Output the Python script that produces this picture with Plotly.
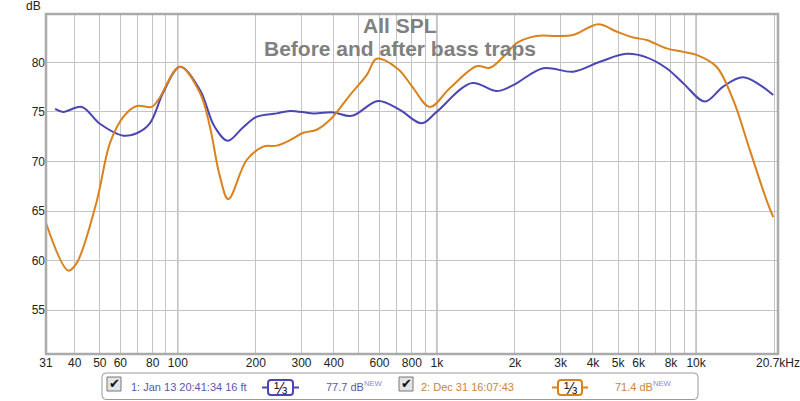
import numpy as np
import plotly.graph_objects as go

# Data (frequency in Hz, level in dB).
blue_freq = [33.6, 36.1, 42.6, 50, 61.6, 69.4, 78, 88, 102, 121.8, 138, 155.7, 178,
             201, 240.7, 271, 333, 398, 469, 593, 719, 873, 997, 1360, 1699, 1970,
             2570, 3357, 4254, 5391, 6440, 7692, 8918, 10810, 12720, 15190, 19840]
blue_db = [75.3, 75.0, 75.5, 73.8, 72.6, 72.85, 73.85, 77.0, 79.55, 77.2, 73.6, 72.1, 73.4,
           74.5, 74.85, 75.1, 74.85, 74.95, 74.6, 76.1, 75.2, 73.85, 75.0, 77.9, 77.1, 77.7,
           79.4, 79.05, 80.05, 80.85, 80.5, 79.4, 77.9, 76.05, 77.55, 78.5, 76.7]

orange_freq = [31, 37.8, 40.7, 48.6, 54.7, 61.6, 69.4, 79.3, 84, 102, 121.8, 133, 145,
               156.6, 184.4, 213.7, 240.7, 271, 305, 343.5, 386.5, 461.6, 535.5, 585, 709,
               800, 939.6, 1122, 1423, 1601, 1802, 2050, 2424, 2895, 3357, 4191, 4934,
               5719, 6440, 7692, 8918, 10040, 11995, 13905, 16125, 18700, 19840]
orange_db = [63.8, 59.0, 59.75, 65.95, 71.85, 74.5, 75.6, 75.5, 76.2, 79.55, 76.9, 73.5, 68.6,
             66.2, 70.15, 71.5, 71.6, 72.15, 72.9, 73.2, 74.2, 76.7, 78.7, 80.35, 79.3,
             77.6, 75.5, 77.4, 79.6, 79.45, 80.55, 82.0, 82.65, 82.65, 82.75, 83.83, 83.1,
             82.5, 82.25, 81.4, 81.05, 80.75, 79.55, 76.2, 71.15, 66.1, 64.4]

grid_freq = [31, 40, 50, 60, 70, 80, 90, 100, 200, 300, 400, 500, 600, 700, 800, 900,
             1000, 2000, 3000, 4000, 5000, 6000, 7000, 8000, 9000, 10000, 20000, 20700]
grid_text = ['31', '40', '50', '60', '', '80', '', '100', '200', '300', '400', '', '600',
             '', '800', '', '1k', '2k', '3k', '4k', '5k', '6k', '', '8k', '', '10k', '', '20.7kHz']
db_ticks = [55, 60, 65, 70, 75, 80]

BLUE = '#4a46b4'
ORANGE = '#d9821e'
W, H = 800, 401
L, R, T, B = 46, 22, 14, 47
PW, PH = W - L - R, H - T - B


def px(x):
    return (x - L) / PW


def py(y):
    return (H - B - y) / PH


def rounded(x0, y0, x1, y1, r):
    # rounded rectangle path in paper coords, from pixel corners
    pts = (f"M {px(x0 + r)},{py(y0)} L {px(x1 - r)},{py(y0)} Q {px(x1)},{py(y0)} {px(x1)},{py(y0 + r)} "
           f"L {px(x1)},{py(y1 - r)} Q {px(x1)},{py(y1)} {px(x1 - r)},{py(y1)} "
           f"L {px(x0 + r)},{py(y1)} Q {px(x0)},{py(y1)} {px(x0)},{py(y1 - r)} "
           f"L {px(x0)},{py(y0 + r)} Q {px(x0)},{py(y0)} {px(x0 + r)},{py(y0)} Z")
    return pts


fig = go.Figure()
fig.add_trace(go.Scatter(x=blue_freq, y=blue_db, mode='lines',
                         line=dict(color=BLUE, width=2, shape='spline', smoothing=1.0)))
fig.add_trace(go.Scatter(x=orange_freq, y=orange_db, mode='lines',
                         line=dict(color=ORANGE, width=2, shape='spline', smoothing=1.0)))

shapes = []
# darker decade lines
for f in [100, 1000, 10000]:
    shapes.append(dict(type='line', xref='x', yref='paper', x0=f, x1=f, y0=0, y1=1,
                       line=dict(color='#8a8a8a', width=1), layer='below'))
# plot frame
shapes.append(dict(type='rect', xref='paper', yref='paper', x0=0, x1=1, y0=0, y1=1,
                   line=dict(color='#aaaaaa', width=2.5)))
# legend box
shapes.append(dict(type='path', xref='paper', yref='paper', path=rounded(102, 373, 698, 399.5, 4),
                   line=dict(color='#999999', width=1), fillcolor='white'))

annotations = [
    dict(text='<b>All SPL</b>', x=px(400), y=py(26), font=dict(size=21, color='#808080')),
    dict(text='<b>Before and after bass traps</b>', x=px(400), y=py(49),
         font=dict(size=21, color='#808080')),
    dict(text='dB', x=px(33), y=py(6), font=dict(size=12, color='#222222')),
]

legend_items = [
    dict(cb=107, label='1: Jan 13 20:41:34 16 ft', lx=129, box=(268, 293), lvl='77.7 dB', vx=324,
         col=BLUE, tcol='#5a58a8'),
    dict(cb=399, label='2: Dec 31 16:07:43', lx=419, box=(558, 582), lvl='71.4 dB', vx=613,
         col=ORANGE, tcol='#c8853a'),
]
for it in legend_items:
    cb = it['cb']
    shapes.append(dict(type='rect', xref='paper', yref='paper', x0=px(cb), x1=px(cb + 14),
                       y0=py(377), y1=py(391), line=dict(color='#777777', width=1),
                       fillcolor='#e4e4e4'))
    annotations.append(dict(text='✔', x=px(cb + 7.5), y=py(384), font=dict(size=13, color='#111111')))
    annotations.append(dict(text=it['label'], x=px(it['lx']), y=py(387), xanchor='left',
                            font=dict(size=11, color=it['tcol'])))
    b0, b1 = it['box']
    shapes.append(dict(type='path', xref='paper', yref='paper', path=rounded(b0, 380, b1, 395, 3),
                       line=dict(color=it['col'], width=2), fillcolor='white'))
    shapes.append(dict(type='line', xref='paper', yref='paper', x0=px(b0 - 6), x1=px(b0),
                       y0=py(387.5), y1=py(387.5), line=dict(color=it['col'], width=2)))
    shapes.append(dict(type='line', xref='paper', yref='paper', x0=px(b1), x1=px(b1 + 6),
                       y0=py(387.5), y1=py(387.5), line=dict(color=it['col'], width=2)))
    annotations.append(dict(text='⅓', x=px((b0 + b1) / 2), y=py(388),
                            font=dict(size=16, color='#222222')))
    annotations.append(dict(text=it['lvl'] + "<sup><span style='color:#8a8ae0'>NEW</span></sup>",
                            x=px(it['vx']), y=py(386), xanchor='left',
                            font=dict(size=11, color=it['tcol'])))

for a in annotations:
    a.update(xref='paper', yref='paper', showarrow=False)
    a.setdefault('xanchor', 'center')
    a.setdefault('yanchor', 'middle')

fig.update_layout(
    width=W, height=H, margin=dict(l=L, r=R, t=T, b=B, autoexpand=False),
    paper_bgcolor='white', plot_bgcolor='white', showlegend=False,
    font=dict(family='Liberation Sans, Arial, sans-serif', size=12, color='#222222'),
    shapes=shapes, annotations=annotations,
)
fig.update_xaxes(type='log', range=[np.log10(31) - 1e-4, np.log10(20700) + 1e-4],
                 tickvals=grid_freq, ticktext=grid_text, showgrid=True, tickangle=0,
                 gridcolor='#c4c4c4', gridwidth=1, zeroline=False, ticks='',
                 showline=False, tickfont=dict(size=12), automargin=False)
fig.update_yaxes(range=[50.59, 84.87], tickvals=db_ticks, showgrid=True,
                 gridcolor='#c4c4c4', gridwidth=1, zeroline=False, ticks='',
                 showline=False, tickfont=dict(size=12), automargin=False)

# drop the page's default body margin so the figure sits at the window's corner
fig.write_html("out.html", config={'displayModeBar': False},
               post_script="document.body.style.margin='0';")
